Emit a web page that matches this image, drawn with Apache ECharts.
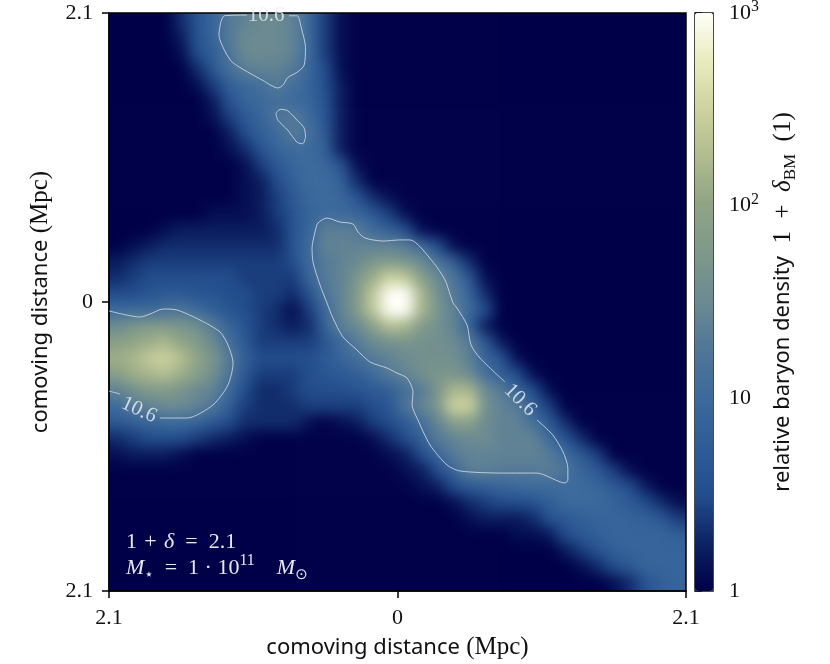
<!DOCTYPE html>
<html>
<head>
<meta charset="utf-8">
<script src="https://cdn.jsdelivr.net/npm/echarts@6/dist/echarts.min.js"></script>
<style>
html,body{margin:0;padding:0;background:#fff}
#c{width:830px;height:664px}
</style>
</head>
<body>
<div id="c"></div>
<script>
// log10(1 + delta_BM) x 10 on a 36 x 36 grid, top row first
const logDensityTenths = [
[0,0,0,0,3,6,9,13,14,15,15,14,10,4,1],
[0,0,0,0,2,6,9,13,15,15,15,14,10,4,1],
[0,0,0,0,1,5,8,12,15,15,15,14,10,4,1],
[0,0,0,0,0,3,7,11,13.5,14,14,13,9,5,1],
[0,0,0,0,0,1,4,8,10,11,13,11,9,5,2],
[0,0,0,0,0,0,2,6,9,10,11,10,9,6,2],
[0,0,0,0,0,0,1,4,7,9,12,13,10,6,2],
[0,0,0,0,0,0,0,2,5,8,10,13,11,7,2],
[0,0,0,0,0,0,0,1,3,6,9,10,10,8,2],
[0,0,0,0,0,0,0,0,1,4,7,9,10,9,6,1],
[0,0,0,0,0,0,0,0,1,2,5,8,10,10,8,3],
[0,0,0,0,0,0,0,0,1,2,4,7,9,10,9,6,3,1],
[0,0,0,0,0,0,1,1,1,2,4,6,9,10,10,9,7,4,1],
[0,0,0,1,2,2,2,2,2,2,3,6,9,13.5,13.5,13,10,8,5,1],
[0,1,2,3,3,3,3,3,3,3,3,6,10,14,14,14,14,14,13,10,5,1],
[2,3,4,4,4,4,4,4,4,4,4,5,10,13,14,15,17,18,17,15,12,8,3],
[3,4,5,5,5,5,5,5,4,4,4,4,9,13,14,17,21,25,24,19,15,12,7,1],
[5,5,6,7,7,6,6,5,5,4,4,3,6,12,14,18,24,30,30,22,16,13,9,3],
[10,10,10,11,12,10,8,6,5,4,3,1,4,10,14,18,24,30,30,22,17,14,10,5],
[15,17,18,18,17,16,13,9,6,4,3,2,3,9,13.5,15,19,23,22,18,16,14,9,2],
[19,20,21,22,20,18,15,11,7,4,4,4,4,6,10,13,15,16,17,16,16,15,13,7,2],
[21,22,24,25,23,20,17,13,8,5,5,5,5,7,9,11,13,14,15,16,16,16,13.5,9,6,1],
[19,21,22,23,21,19,16,12,7,4,4,4,5,6,7,8,10,13,14,16,17,17,15,11,8,5,1],
[14,16,18,18,17,15,14,10,5,3,3,4,5,5,5,6,7,8,11,13,17,22,22,15,13,9,5,1],
[10,13,14,15,15,14,12,8,4,3,3,3,4,4,4,4,5,6,12,14,17,25,25,16,14,13,8,4],
[7,8,9,10,10,9,7,5,3,3,3,3,1,0,1,2,4,5,7,11,14,19,19,15,14,14,11,7,3],
[3,4,5,5,5,4,3,2,1,0,0,0,0,0,0,0,1,3,5,8,13,14,15,15,14,14,14,10,6,3],
[1,2,2,2,1,0,0,0,0,0,0,0,0,0,0,0,0,1,2,5,9,13,14,14,14,14,14,13,10,7,4],
[0,0,0,0,0,0,0,0,0,0,0,0,0,0,0,0,0,0,1,2,5,9,13.5,13.5,13,13,13,13.5,12,9,7,4,1],
[0,0,0,0,0,0,0,0,0,0,0,0,0,0,0,0,0,0,0,1,2,5,7,8,9,10,10,10,10,10,9,7,5,2],
[0,0,0,0,0,0,0,0,0,0,0,0,0,0,0,0,0,0,0,0,0,1,3,4,5,5,6,8,10,10,10,9,7,5,3,1],
[0,0,0,0,0,0,0,0,0,0,0,0,0,0,0,0,0,0,0,0,0,0,1,2,2,2,3,6,7,8,9,9,9,8,7,4],
[0,0,0,0,0,0,0,0,0,0,0,0,0,0,0,0,0,0,0,0,0,0,0,0,0,1,1,2,5,7,8,9,9,9,9,8],
[0,0,0,0,0,0,0,0,0,0,0,0,0,0,0,0,0,0,0,0,0,0,0,0,0,0,0,0,2,4,6,8,9,9,9,9],
[0,0,0,0,0,0,0,0,0,0,0,0,0,0,0,0,0,0,0,0,0,0,0,0,0,0,0,0,0,1,3,5,7,9,9,9],
[0,0,0,0,0,0,0,0,0,0,0,0,0,0,0,0,0,0,0,0,0,0,0,0,0,0,0,0,0,0,0,1,3,6,8,9]
];
// colour map stops, evenly spaced over log10 density 0..3
const colourStops = ['#000048','#0c2362','#234e8d','#2f5c96','#3c6a9c','#507698','#6b8a91','#7e988a','#8fa385','#b0bb8e','#cdd29e','#e9ebbe','#fffff8'];
// the 10.6 contour, in Mpc
const contourTop = [[-0.79,2.08],[-0.73,2.08],[-0.70,1.99],[-0.67,1.85],[-0.68,1.72],[-0.73,1.67],[-0.80,1.63],[-0.83,1.58],[-0.87,1.555],[-0.98,1.61],[-1.20,1.74],[-1.26,1.83],[-1.30,1.94],[-1.285,2.035],[-1.26,2.08],[-1.095,2.085]];
const contourSmall = [[-0.885,1.37],[-0.855,1.40],[-0.80,1.39],[-0.73,1.32],[-0.68,1.265],[-0.67,1.20],[-0.69,1.15],[-0.73,1.16],[-0.80,1.25],[-0.87,1.32],[-0.885,1.37]];
const contourCentre = [[1.015,-0.857],[1.13,-0.966],[1.205,-1.09],[1.24,-1.206],[1.24,-1.293],[1.22,-1.315],[1.015,-1.243],[0.77,-1.243],[0.455,-1.228],[0.36,-1.184],[0.237,-1.039],[0.142,-0.843],[0.106,-0.748],[0.113,-0.654],[0.069,-0.552],[-0.004,-0.516],[-0.076,-0.48],[-0.20,-0.436],[-0.295,-0.349],[-0.397,-0.254],[-0.47,-0.116],[-0.513,-0.007],[-0.564,0.124],[-0.615,0.291],[-0.622,0.392],[-0.60,0.509],[-0.579,0.574],[-0.513,0.61],[-0.419,0.581],[-0.324,0.567],[-0.288,0.509],[-0.237,0.465],[-0.106,0.443],[0.018,0.451],[0.091,0.451],[0.258,0.291],[0.346,0.16],[0.404,-0.007],[0.433,-0.044],[0.506,-0.167],[0.535,-0.312],[0.60,-0.407],[0.782,-0.581]];
const contourLeftA = [[-2.1,-0.065],[-1.874,-0.109],[-1.80,-0.087],[-1.707,-0.051],[-1.605,-0.058],[-1.438,-0.131],[-1.292,-0.218],[-1.234,-0.312],[-1.197,-0.443],[-1.234,-0.603],[-1.343,-0.748],[-1.532,-0.843],[-1.729,-0.843]];
const contourLeftB = [[-2.02,-0.668],[-2.1,-0.647]];
const contourLabels = [[-0.957,2.085,0],[0.892,-0.712,-45],[-1.882,-0.785,-25]];
const contourLabelText = '10.6';
const axisTicks = ['2.1','0','2.1'];
const barTicks = ['1','10','10{sup|2}','10{sup|3}'];

const SERIF = '"Liberation Serif","DejaVu Serif",serif';
const SANS = '"Noto Sans","DejaVu Sans",sans-serif';
const N = logDensityTenths.length;
// one padding cell on every side so the soft edge of the blurred layer falls outside the plot
const cats = Array.from({length:N+2},(_,i)=>i);
const heat = [];
for (let r=-1;r<=N;r++){
  const row = logDensityTenths[Math.min(N-1,Math.max(0,r))];
  for (let c=-1;c<=N;c++){
    heat.push([c+1,r+1,row[Math.min(N-1,Math.max(0,c))]||0]);
  }
}
const PL=109,PT=13,PW=577,PH=578,CW=PW/N,CH=PH/N;
const contourLine = d=>({type:'line',xAxisIndex:1,yAxisIndex:1,data:d,zlevel:1,z:3,smooth:0.25,showSymbol:false,symbol:'none',clip:true,silent:true,
  lineStyle:{color:'#d9dfe8',width:0.8}});

const chart = echarts.init(document.getElementById('c'),null,{renderer:'canvas'});
const axisBase = {axisLine:{show:true,onZero:false,lineStyle:{color:'#000',width:1.5}},axisTick:{show:true,length:7,lineStyle:{color:'#000',width:1.5}},splitLine:{show:false},
  axisLabel:{color:'#111',fontFamily:SERIF,fontSize:22,margin:16,formatter:(v,i)=>axisTicks[i]}};
const nameRich = {s:{fontFamily:SANS,fontSize:22,color:'#111'},m:{fontFamily:SERIF,fontSize:25,color:'#111'}};
chart.setOption({
  animation:false,
  backgroundColor:'transparent',
  grid:[
    {left:PL-CW,top:PT-CH,width:PW+2*CW,height:PH+2*CH,show:false,zlevel:0,outerBoundsMode:'none'},
    {left:PL,top:PT,width:PW,height:PH,show:true,backgroundColor:'transparent',borderColor:'#000',borderWidth:1.5,zlevel:1,outerBoundsMode:'none'},
    {left:695,top:PT,width:18,height:PH,show:true,backgroundColor:'transparent',borderColor:'#111',borderWidth:1.5,zlevel:1,outerBoundsMode:'none'}
  ],
  xAxis:[
    {type:'category',gridIndex:0,data:cats,show:false,zlevel:0},
    Object.assign({},axisBase,{type:'value',gridIndex:1,min:-2.1,max:2.1,interval:2.1,zlevel:1,
      name:'{s|comoving distance}{m| (Mpc)}',nameLocation:'center',nameGap:44,nameTextStyle:{rich:nameRich}}),
    {type:'value',gridIndex:2,min:0,max:1,show:false,zlevel:1}
  ],
  yAxis:[
    {type:'category',gridIndex:0,data:cats,inverse:true,show:false,zlevel:0},
    Object.assign({},axisBase,{type:'value',gridIndex:1,min:-2.1,max:2.1,interval:2.1,zlevel:1,
      name:'{s|comoving distance}{m| (Mpc)}',nameLocation:'center',nameGap:56,nameTextStyle:{rich:nameRich}}),
    {type:'log',logBase:10,gridIndex:2,min:1,max:1000,position:'right',zlevel:1,
      axisLine:{show:false},minorTick:{show:false},splitLine:{show:false},
      axisTick:{show:true,length:7,lineStyle:{color:'#111',width:1.5}},
      axisLabel:{color:'#111',fontFamily:SERIF,fontSize:22,margin:16,formatter:(v,i)=>barTicks[i],
        rich:{sup:{fontFamily:SERIF,fontSize:16,color:'#111',verticalAlign:'top',lineHeight:28}}},
      name:'{s|relative baryon density}{m|\u20021\u2002+\u2002}{d|δ}{sub|BM}{m|\u2002(1)}',nameLocation:'center',nameRotate:90,nameGap:54,
      nameTextStyle:{rich:{s:nameRich.s,m:nameRich.m,
        d:{fontFamily:SERIF,fontSize:25,fontStyle:'italic',color:'#111'},
        sub:{fontFamily:SERIF,fontSize:17,color:'#111',verticalAlign:'bottom',lineHeight:32}}}}
  ],
  visualMap:{type:'continuous',seriesIndex:0,dimension:2,min:0,max:30,calculable:false,hoverLink:false,left:695,top:PT,padding:0,
    itemWidth:18,itemHeight:PH,text:null,showLabel:false,zlevel:1,inRange:{color:colourStops}},
  title:[
    {left:126,top:531,zlevel:1,padding:0,text:'1\u2004+\u2004{i|δ}\u2002=\u20022.1',textStyle:{color:'#e6e8ee',fontFamily:SERIF,fontSize:22,fontWeight:'normal',
      rich:{i:{fontFamily:SERIF,fontStyle:'italic',fontSize:22,color:'#e6e8ee'}}}},
    {left:126,top:553,zlevel:1,padding:0,text:'{i|M}{sub|⋆}\u2002=\u20021 · 10{sup|11}\u2003{i|M}{sub|⊙}',textStyle:{color:'#e6e8ee',fontFamily:SERIF,fontSize:22,fontWeight:'normal',
      rich:{i:{fontFamily:SERIF,fontStyle:'italic',fontSize:22,color:'#e6e8ee'},
        sub:{fontFamily:'"DejaVu Sans"',fontSize:15,color:'#e6e8ee',verticalAlign:'bottom',lineHeight:30},
        sup:{fontFamily:SERIF,fontSize:16,color:'#e6e8ee',verticalAlign:'top',lineHeight:30}}}}
  ],
  series:[
    {type:'heatmap',xAxisIndex:0,yAxisIndex:0,data:heat,zlevel:0,progressive:0,silent:true,emphasis:{disabled:true},itemStyle:{borderWidth:0}},
    contourLine(contourTop),contourLine(contourSmall),contourLine(contourCentre),contourLine(contourLeftA),contourLine(contourLeftB),
    {type:'scatter',xAxisIndex:1,yAxisIndex:1,zlevel:1,z:4,symbolSize:1,itemStyle:{color:'transparent'},silent:true,clip:false,
      data:contourLabels.map(p=>({value:[p[0],p[1]],label:{show:true,position:'inside',rotate:p[2],formatter:contourLabelText,
        color:'#eef1f6',fontFamily:SERIF,fontSize:21}}))}
  ]
});
function softenHeatLayer(){
  const base = document.querySelector('#c canvas[data-zr-dom-id="zr_0"]');
  if(base){
    base.style.filter='blur(7px)';
    base.style.clipPath='inset('+PT+'px '+(830-PL-PW)+'px '+(664-PT-PH)+'px '+PL+'px)';
  }
}
softenHeatLayer();
chart.on('finished',softenHeatLayer);
</script>
</body>
</html>
